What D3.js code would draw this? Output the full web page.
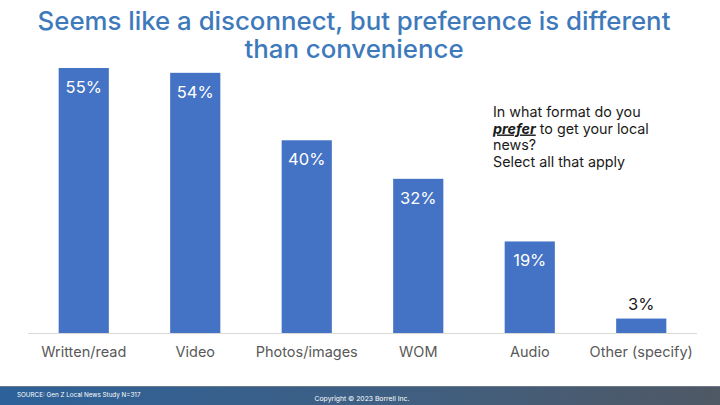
<!DOCTYPE html>
<html><head><meta charset="utf-8">
<script src="https://cdn.jsdelivr.net/npm/d3@7"></script>
<style>html,body{margin:0;padding:0;background:#fff;overflow:hidden}</style>
</head><body>
<svg id="c" width="720" height="405"></svg>
<script>
const categories = ["Written/read","Video","Photos/images","WOM","Audio","Other (specify)"];
const values = [55,54,40,32,19,3];
const valueLabels = ["55%","54%","40%","32%","19%","3%"];
const titleLines = ["Seems like a disconnect, but preference is different","than convenience"];
const sourceText = "SOURCE: Gen Z Local News Study N=317";
const copyrightText = "Copyright © 2023 Borrell Inc.";

const svg = d3.select("#c");
const font = "Inter, 'Open Sans', sans-serif";

const defs = svg.append("defs");
const grad = defs.append("linearGradient").attr("id","fg").attr("x1","0").attr("x2","1").attr("y1","0").attr("y2","0");
grad.append("stop").attr("offset","0").attr("stop-color","#2d6199");
grad.append("stop").attr("offset","0.55").attr("stop-color","#3f5f82");
grad.append("stop").attr("offset","1").attr("stop-color","#4f5864");

// title
svg.selectAll("text.title").data(titleLines).enter().append("text")
  .attr("class","title")
  .attr("x",354).attr("y",(d,i)=>30+i*28)
  .attr("text-anchor","middle")
  .attr("font-family",font).attr("font-size",25.8).attr("font-weight",500)
  .attr("fill","#3e7abb")
  .text(d=>d);

const x = d3.scaleBand().domain(categories).range([28,697]).paddingInner(0.55).paddingOuter(0.275);
const y = d3.scaleLinear().domain([0,55]).range([333,68]);

svg.selectAll("rect.bar").data(values).enter().append("rect")
  .attr("class","bar")
  .attr("x",(d,i)=>x(categories[i]))
  .attr("y",d=>y(d))
  .attr("width",x.bandwidth())
  .attr("height",d=>y(0)-y(d))
  .attr("fill","#4472c4");

// baseline
svg.append("line").attr("x1",28).attr("x2",697).attr("y1",333.5).attr("y2",333.5)
  .attr("stroke","#d9d9d9").attr("stroke-width",1);

// value labels
svg.selectAll("text.val").data(values).enter().append("text")
  .attr("class","val")
  .attr("x",(d,i)=>x(categories[i])+x.bandwidth()/2)
  .attr("y",d=> d<10 ? y(d)-9 : y(d)+25)
  .attr("text-anchor","middle")
  .attr("font-family",font).attr("font-size",16.5)
  .attr("fill",d=> d<10 ? "#1a1a1a" : "#ffffff")
  .text((d,i)=>valueLabels[i]);

// category axis labels
const xAxis = d3.axisBottom(x).tickSize(0).tickPadding(0);
const ax = svg.append("g").attr("transform","translate(0,347)").call(xAxis);
ax.select(".domain").remove();
ax.selectAll("text").attr("font-family",font).attr("font-size",14.5).attr("fill","#595959").attr("dy","0.71em");

// annotation
const ann = svg.append("text").attr("font-family",font).attr("font-size",14.3).attr("fill","#1a1a1a");
ann.append("tspan").attr("x",493).attr("y",117).text("In what format do you");
const l2 = ann.append("tspan").attr("x",493).attr("y",133.5);
l2.append("tspan").attr("font-weight",700).attr("font-style","italic").attr("text-decoration","underline").text("prefer");
l2.append("tspan").text(" to get your local");
ann.append("tspan").attr("x",493).attr("y",150).text("news?");
ann.append("tspan").attr("x",493).attr("y",166.5).text("Select all that apply");

// footer
svg.append("rect").attr("x",0).attr("y",386).attr("width",720).attr("height",19).attr("fill","url(#fg)");
svg.append("line").attr("x1",0).attr("x2",720).attr("y1",386.5).attr("y2",386.5).attr("stroke","#6b7a88").attr("stroke-width",1);
svg.append("text").attr("x",17).attr("y",396.5).attr("font-family",font).attr("font-size",6.3).attr("fill","#ffffff").text(sourceText);
svg.append("text").attr("x",362).attr("y",401).attr("text-anchor","middle").attr("font-family",font).attr("font-size",6.8).attr("fill","#ffffff").text(copyrightText);
</script>
</body></html>
